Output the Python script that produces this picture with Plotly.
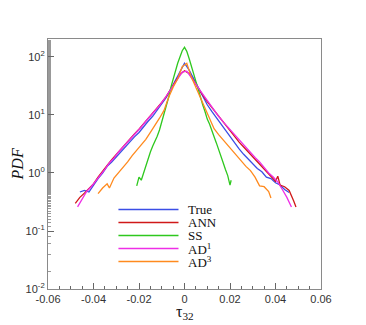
import plotly.graph_objects as go

# ---- data ----
x_true = [-0.046, -0.044, -0.042, -0.040, -0.038, -0.036, -0.034, -0.032, -0.030, -0.028,
          -0.026, -0.024, -0.022, -0.020, -0.018, -0.016, -0.014, -0.012, -0.010, -0.008,
          -0.006, -0.004, -0.002, 0.000, 0.002, 0.004, 0.006, 0.008, 0.010, 0.012,
          0.014, 0.016, 0.018, 0.020, 0.022, 0.024, 0.026, 0.028, 0.030, 0.032,
          0.034, 0.036, 0.038, 0.040, 0.042, 0.044, 0.046]
y_true = [0.47, 0.50, 0.47, 0.62, 0.80, 1.0, 1.3, 1.55, 1.9, 2.3,
          2.8, 3.5, 4.2, 5.0, 6.3, 7.8, 9.5, 12, 15.5, 20,
          28, 40, 58, 78, 60, 42, 30, 21, 15, 11.5,
          9, 7, 5.3, 4.3, 3.3, 2.6, 2.1, 1.75, 1.45, 1.2,
          1.05, 0.85, 0.80, 0.68, 0.62, 0.52, 0.46]

x_ann = [-0.048, -0.046, -0.044, -0.042, -0.040, -0.038, -0.036, -0.034, -0.032, -0.030,
         -0.028, -0.026, -0.024, -0.022, -0.020, -0.018, -0.016, -0.014, -0.012, -0.010,
         -0.008, -0.006, -0.004, -0.002, 0.000, 0.002, 0.004, 0.006, 0.008, 0.010,
         0.012, 0.014, 0.016, 0.018, 0.020, 0.022, 0.024, 0.026, 0.028, 0.030,
         0.032, 0.034, 0.036, 0.038, 0.040, 0.041, 0.042, 0.044, 0.046, 0.048, 0.049]
y_ann = [0.30, 0.38, 0.45, 0.55, 0.65, 0.85, 1.05, 1.35, 1.7, 2.1,
         2.6, 3.2, 3.9, 4.7, 5.7, 7, 8.6, 10.5, 13, 16.5,
         21, 28, 37, 50, 58, 52, 39, 29, 22, 17,
         13.5, 10.5, 8.3, 6.6, 5.2, 4.2, 3.4, 2.8, 2.3, 1.9,
         1.6, 1.3, 1.05, 0.85, 0.72, 0.88, 0.62, 0.58, 0.50, 0.33, 0.26]

x_ss = [-0.021, -0.020, -0.019, -0.018, -0.017, -0.016, -0.015, -0.014, -0.013, -0.012,
        -0.011, -0.010, -0.009, -0.008, -0.007, -0.006, -0.005, -0.004, -0.003, -0.002,
        -0.001, 0.000, 0.001, 0.002, 0.003, 0.004, 0.005, 0.006, 0.007, 0.008,
        0.009, 0.010, 0.011, 0.012, 0.013, 0.014, 0.015, 0.016, 0.017, 0.018,
        0.019, 0.020, 0.0205]
y_ss = [0.6, 0.85, 0.75, 1.0, 1.3, 1.8, 2.3, 2.9, 3.5, 4.3,
        5.5, 7.5, 10, 14, 20, 30, 42, 58, 78, 100,
        128, 147, 125, 95, 72, 52, 38, 28, 20, 15,
        11.5, 8.5, 7.0, 5.2, 4.2, 3.3, 2.6, 2.0, 1.5, 1.15,
        0.9, 0.62, 0.75]

x_ad1 = [-0.047, -0.045, -0.043, -0.041, -0.039, -0.037, -0.035, -0.033, -0.031, -0.029,
         -0.027, -0.025, -0.023, -0.021, -0.019, -0.017, -0.015, -0.013, -0.011, -0.009,
         -0.007, -0.005, -0.003, -0.001, 0.001, 0.003, 0.005, 0.007, 0.009, 0.011,
         0.013, 0.015, 0.017, 0.019, 0.021, 0.023, 0.025, 0.027, 0.029, 0.031,
         0.033, 0.035, 0.037, 0.039, 0.041, 0.043, 0.045, 0.047]
y_ad1 = [0.26, 0.36, 0.48, 0.58, 0.72, 0.92, 1.15, 1.5, 1.8, 2.3,
         2.8, 3.5, 4.2, 5.0, 6.2, 7.8, 9.6, 11.5, 14.5, 18.5,
         24, 32, 42, 55, 57, 45, 34, 26, 20, 15.5,
         12, 9.5, 7.6, 6.2, 5.0, 4.1, 3.4, 2.7, 2.2, 1.85,
         1.55, 1.25, 1.0, 0.85, 0.7, 0.52, 0.38, 0.26]

x_ad3 = [-0.038, -0.036, -0.034, -0.033, -0.031, -0.029, -0.027, -0.025, -0.023, -0.021,
         -0.019, -0.017, -0.015, -0.013, -0.011, -0.009, -0.007, -0.005, -0.003, -0.001,
         0.001, 0.003, 0.005, 0.007, 0.009, 0.011, 0.013, 0.015, 0.017, 0.019,
         0.021, 0.023, 0.025, 0.027, 0.029, 0.031, 0.033, 0.035, 0.037, 0.038]
y_ad3 = [0.44, 0.55, 0.65, 0.55, 0.82, 1.0, 1.25, 1.55, 2.0, 2.5,
         3.0, 3.8, 5.0, 6.5, 8.8, 12, 20, 30, 42, 68,
         78, 45, 30, 19, 12.5, 8.5, 5.8, 4.6, 3.7, 3.0,
         2.5, 2.0, 1.6, 1.3, 1.1, 0.85, 0.6, 0.58, 0.48, 0.37]

series_names = ["True", "ANN", "SS", "AD<sup>1</sup>", "AD<sup>3</sup>"]
series_colors = ["#3b4ee6", "#d01818", "#2ec81e", "#ee2ee6", "#ff8a1e"]

x_ticks = [-0.06, -0.04, -0.02, 0, 0.02, 0.04, 0.06]
x_ticktext = ["-0.06", "-0.04", "-0.02", "0", "0.02", "0.04", "0.06"]
y_ticks = [0.01, 0.1, 1, 10, 100]
y_ticktext = ["10<sup>-2</sup>", "10<sup>-1</sup>", "10<sup>0</sup>", "10<sup>1</sup>", "10<sup>2</sup>"]

fig = go.Figure()
data = [(x_true, y_true), (x_ann, y_ann), (x_ss, y_ss), (x_ad1, y_ad1), (x_ad3, y_ad3)]
for (xs, ys), nm, col in zip(data, series_names, series_colors):
    fig.add_trace(go.Scatter(x=xs, y=ys, mode="lines", name=nm,
                             line=dict(color=col, width=1.3), showlegend=False))

# custom legend (line samples + labels) in paper coordinates
leg_x0, leg_x1 = 0.258, 0.478
leg_y_top = 0.318
leg_step = 0.052
for i, (nm, col) in enumerate(zip(series_names, series_colors)):
    yy = leg_y_top - i * leg_step
    fig.add_shape(type="line", xref="paper", yref="paper", x0=leg_x0, x1=leg_x1,
                  y0=yy, y1=yy, line=dict(color=col, width=1.3))
    fig.add_annotation(xref="paper", yref="paper", x=leg_x1 + 0.028, y=yy, text=nm,
                       showarrow=False, xanchor="left", yanchor="middle",
                       font=dict(family="Liberation Serif", size=13, color="#111"))

# axis titles
fig.add_annotation(xref="paper", yref="paper", x=0.5, y=-0.095, text="τ<sub>32</sub>",
                   showarrow=False, xanchor="center", yanchor="middle",
                   font=dict(family="Liberation Serif", size=16, color="#111"))
fig.add_annotation(xref="paper", yref="paper", x=-0.112, y=0.5, text="<i>PDF</i>",
                   showarrow=False, xanchor="center", yanchor="middle", textangle=-90,
                   font=dict(family="Liberation Serif", size=16, color="#111"))

axis_common = dict(showline=True, linecolor="#8a8a8a", linewidth=1.2, mirror=True,
                   ticks="inside", tickcolor="#666", showgrid=False, zeroline=False,
                   automargin=False,
                   tickfont=dict(family="Liberation Sans", size=11, color="#333"))

fig.update_xaxes(range=[-0.06, 0.06], tickvals=x_ticks, ticktext=x_ticktext, ticklen=6,
                 minor=dict(ticks="inside", dtick=0.005, ticklen=3, tickcolor="#666"),
                 **axis_common)
fig.update_yaxes(type="log", range=[-2, 2.31], tickvals=y_ticks, ticktext=y_ticktext, ticklen=6,
                 minor=dict(ticks="inside", ticklen=3, tickcolor="#999", showgrid=False),
                 **axis_common)

# page body adds an 8px offset, so the figure is sized/margined to compensate
fig.update_layout(width=358, height=317, margin=dict(l=40, r=45, t=31, b=36),
                  paper_bgcolor="white", plot_bgcolor="white", showlegend=False)

fig.write_html("out.html")
